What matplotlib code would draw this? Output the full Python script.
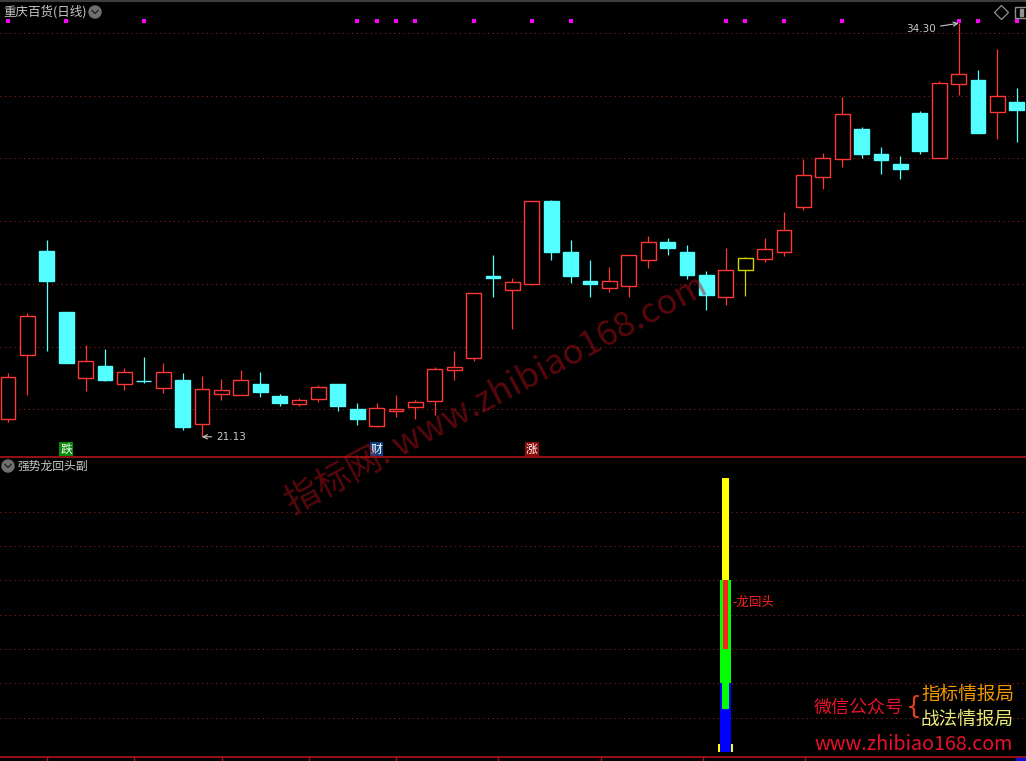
import matplotlib.pyplot as plt
from matplotlib.patches import Circle, Rectangle
from matplotlib.transforms import blended_transform_factory

plt.rcParams['font.family'] = ['Noto Sans CJK SC', 'DejaVu Sans']

# daily OHLC, 重庆百货 (日线)
opens  = [21.70, 23.74, 27.05, 25.10, 23.00, 23.38, 22.81, 22.92, 22.68, 22.94,
          21.54, 22.49, 22.46, 22.81, 22.43, 22.17, 22.33, 22.81, 22.02, 21.48,
          21.95, 22.08, 22.27, 23.26, 23.64, 26.25, 25.81, 26.00, 28.64, 27.02,
          26.09, 25.87, 25.93, 26.76, 27.33, 27.02, 26.28, 25.58, 26.44, 26.79,
          27.02, 28.45, 29.40, 29.98, 30.93, 30.14, 29.82, 31.44, 30.01, 32.37,
          32.49, 31.47, 31.79]
highs  = [23.16, 25.07, 27.40, 25.10, 24.05, 23.93, 23.32, 23.67, 23.48, 23.16,
          23.07, 22.97, 23.26, 23.19, 22.49, 22.37, 22.78, 22.81, 22.21, 22.21,
          22.46, 22.30, 23.35, 23.86, 25.71, 26.92, 26.19, 28.64, 28.67, 27.40,
          26.76, 26.54, 26.92, 27.53, 27.46, 27.24, 26.41, 27.14, 26.86, 27.46,
          28.29, 29.98, 30.17, 31.95, 31.00, 30.36, 30.07, 31.51, 32.46, 34.30,
          32.81, 33.48, 32.24]
lows   = [21.60, 22.46, 23.86, 23.48, 22.59, 22.91, 22.62, 22.84, 22.53, 21.35,
          21.13, 22.30, 22.46, 22.40, 22.11, 22.11, 22.24, 21.95, 21.51, 21.44,
          21.76, 21.70, 21.82, 22.94, 23.54, 25.58, 24.56, 25.97, 26.76, 26.03,
          25.58, 25.74, 25.58, 26.51, 26.92, 26.16, 25.17, 25.33, 25.61, 26.70,
          26.89, 28.35, 29.02, 29.72, 30.01, 29.50, 29.34, 30.14, 30.01, 32.02,
          30.81, 30.61, 30.52]
closes = [23.03, 24.98, 26.09, 23.48, 23.54, 22.94, 23.19, 22.90, 23.19, 21.44,
          22.65, 22.62, 22.94, 22.56, 22.21, 22.30, 22.72, 22.11, 21.70, 22.05,
          22.02, 22.24, 23.29, 23.35, 25.71, 26.19, 26.06, 28.64, 27.02, 26.25,
          26.00, 26.09, 26.92, 27.33, 27.14, 26.28, 25.65, 26.44, 26.82, 27.11,
          27.72, 29.47, 30.01, 31.41, 30.14, 29.95, 29.66, 30.23, 32.40, 32.69,
          30.81, 31.98, 31.54]

special_days = [38]                      # yellow candle
dot_days = [0, 3, 7, 18, 19, 20, 21, 24, 27, 29, 37, 38, 40, 43, 49, 50, 52]
sig_days = [3, 19, 27]
sig_text = ['跌', '财', '涨']
sig_colors = ['#0a8a0a', '#0f3f7f', '#8a0a0a']

# 强势龙回头副 sub panel: stacked sticks on one day (value ranges)
signal_day = 37
stick_lo    = [0.0, 0.0, 20.0, 12.5, 50.0, 30.0]
stick_hi    = [2.3, 20.0, 50.0, 20.0, 80.0, 50.0]
stick_w     = [0.77, 0.57, 0.57, 0.36, 0.36, 0.26]
stick_color = ['#ffff00', '#0000ff', '#00ff00', '#00ff00', '#ffff00', '#ff2020']

RED = '#ff3636'
CYAN = '#54ffff'
GRID = '#9a1e1e'
BG = '#000000'

fig = plt.figure(figsize=(10.26, 7.61), dpi=100, facecolor=BG)
ax = fig.add_axes([0, 304 / 761, 1, 454 / 761], facecolor=BG)
sub = fig.add_axes([0, 4 / 761, 1, 299 / 761], facecolor=BG)

days = list(range(len(opens)))
for a in (ax, sub):
    a.set_xlim(-0.412, 52.474)
    a.tick_params(length=0, labelleft=False, labelbottom=False)
    a.set_xticks([])
    for s in a.spines.values():
        s.set_visible(False)
    a.spines['bottom'].set_visible(True)
    a.spines['bottom'].set_color('#b0141a')
    a.spines['bottom'].set_linewidth(1.2)
    a.grid(axis='y', color=GRID, linewidth=0.75, linestyle=(0, (1, 3.5)))

ax.set_ylim(20.487, 34.947)
ax.set_yticks([22, 24, 26, 28, 30, 32, 34])
sub.set_ylim(-1.46, 85.7)
sub.set_yticks([10, 20, 30, 40, 50, 60, 70])

# candles
for i in days:
    o, h, l, c = opens[i], highs[i], lows[i], closes[i]
    if i in special_days:
        ec, fc = '#d2d200', BG
    elif c >= o:
        ec, fc = RED, BG
    else:
        ec, fc = CYAN, CYAN
    lo_b, hi_b = min(o, c), max(o, c)
    ax.vlines(i, hi_b, h, color=ec, linewidth=0.9, zorder=2)
    ax.vlines(i, l, lo_b, color=ec, linewidth=0.9, zorder=2)
    ax.bar(i, hi_b - lo_b, bottom=lo_b, width=0.77, facecolor=fc,
           edgecolor=ec, linewidth=1.0, zorder=3)

top_tr = blended_transform_factory(ax.transData, ax.transAxes)
ax.scatter(dot_days, [0.9604] * len(dot_days), marker='s', s=9,
           color='#ff00ff', transform=top_tr, zorder=5, linewidths=0)
for d, t, col in zip(sig_days, sig_text, sig_colors):
    ax.text(d, 0.0176, t, transform=top_tr, ha='center', va='center',
            fontsize=8.5, color='white',
            bbox=dict(boxstyle='square,pad=0.08', facecolor=col, edgecolor='none'))

hi_i = highs.index(max(highs))
lo_i = lows.index(min(lows))
ax.annotate(f'{highs[hi_i]:.2f}', xy=(hi_i, highs[hi_i]), xytext=(-16, -4),
            textcoords='offset points', ha='right', va='center', fontsize=7.5,
            color='#c8c8c8', family='DejaVu Sans',
            arrowprops=dict(arrowstyle='->', color='#c8c8c8', lw=0.8,
                            shrinkA=1, shrinkB=0))
ax.annotate(f'{lows[lo_i]:.2f}', xy=(lo_i, lows[lo_i]), xytext=(10, 0),
            textcoords='offset points', ha='left', va='center', fontsize=7.5,
            color='#c8c8c8', family='DejaVu Sans',
            arrowprops=dict(arrowstyle='->', color='#c8c8c8', lw=0.8,
                            shrinkA=1, shrinkB=0))

# sub panel sticks
for lo, hi, w, col in zip(stick_lo, stick_hi, stick_w, stick_color):
    sub.bar(signal_day, hi - lo, bottom=lo, width=w, color=col, linewidth=0, zorder=3)
sub.text(signal_day + 0.35, 43.7, '-龙回头', ha='left', va='center',
         fontsize=9, color='#ff2020')

# overlay in pixel coords for header, icons and watermark
ov = fig.add_axes([0, 0, 1, 1], facecolor='none')
ov.set_xlim(0, 1026)
ov.set_ylim(761, 0)
ov.axis('off')

ov.plot([0, 1026], [1, 1], color='#3c3c3c', lw=1.5)
ov.text(3, 12, '重庆百货(日线)', ha='left', va='center', fontsize=9, color='#c8c8c8')
for cx, cy in [(95, 12), (8, 466)]:
    ov.add_patch(Circle((cx, cy), 6, color='#707070'))
    ov.plot([cx - 3, cx, cx + 3], [cy - 1.5, cy + 1.5, cy - 1.5], color='#222222', lw=1)
ov.text(18, 466, '强势龙回头副', ha='left', va='center', fontsize=8.5, color='#c8c8c8')
ov.plot([1001], [12], marker='D', markersize=7, markerfacecolor='none',
        markeredgecolor='#909090', markeredgewidth=0.9)
ov.add_patch(Rectangle((1015, 7), 12, 11, fill=False, edgecolor='#909090', lw=1))
ov.add_patch(Rectangle((1020, 9), 3, 7, color='#909090'))

# bottom axis strip
for tx in [47, 134, 222, 309, 396, 498, 601, 703, 805]:
    ov.plot([tx, tx], [757, 761], color='#b0141a', lw=1)
ov.add_patch(Rectangle((1016, 757.5), 10, 4, color='#1010d0'))

# watermark
ov.text(497, 395, '指标网. www.zhibiao168.com', rotation=28, rotation_mode='anchor',
        ha='center', va='center', fontsize=25, color='#b0101a', alpha=0.5, zorder=10)

# bottom right promo
ov.text(814, 708, '微信公众号', ha='left', va='center', fontsize=13, color='#e8102a')
ov.text(906, 707, '{', ha='left', va='center', fontsize=18, color='#e04020',
        family='DejaVu Sans')
ov.text(921, 695, '指标情报局', ha='left', va='center', fontsize=13.4, color='#f39800')
ov.text(921, 720, '战法情报局', ha='left', va='center', fontsize=13.4, color='#eaea78')
ov.text(814, 745, 'www.zhibiao168.com', ha='left', va='center', fontsize=14.2,
        color='#e8102a')

fig.savefig('out.png', dpi=100, facecolor=BG)
